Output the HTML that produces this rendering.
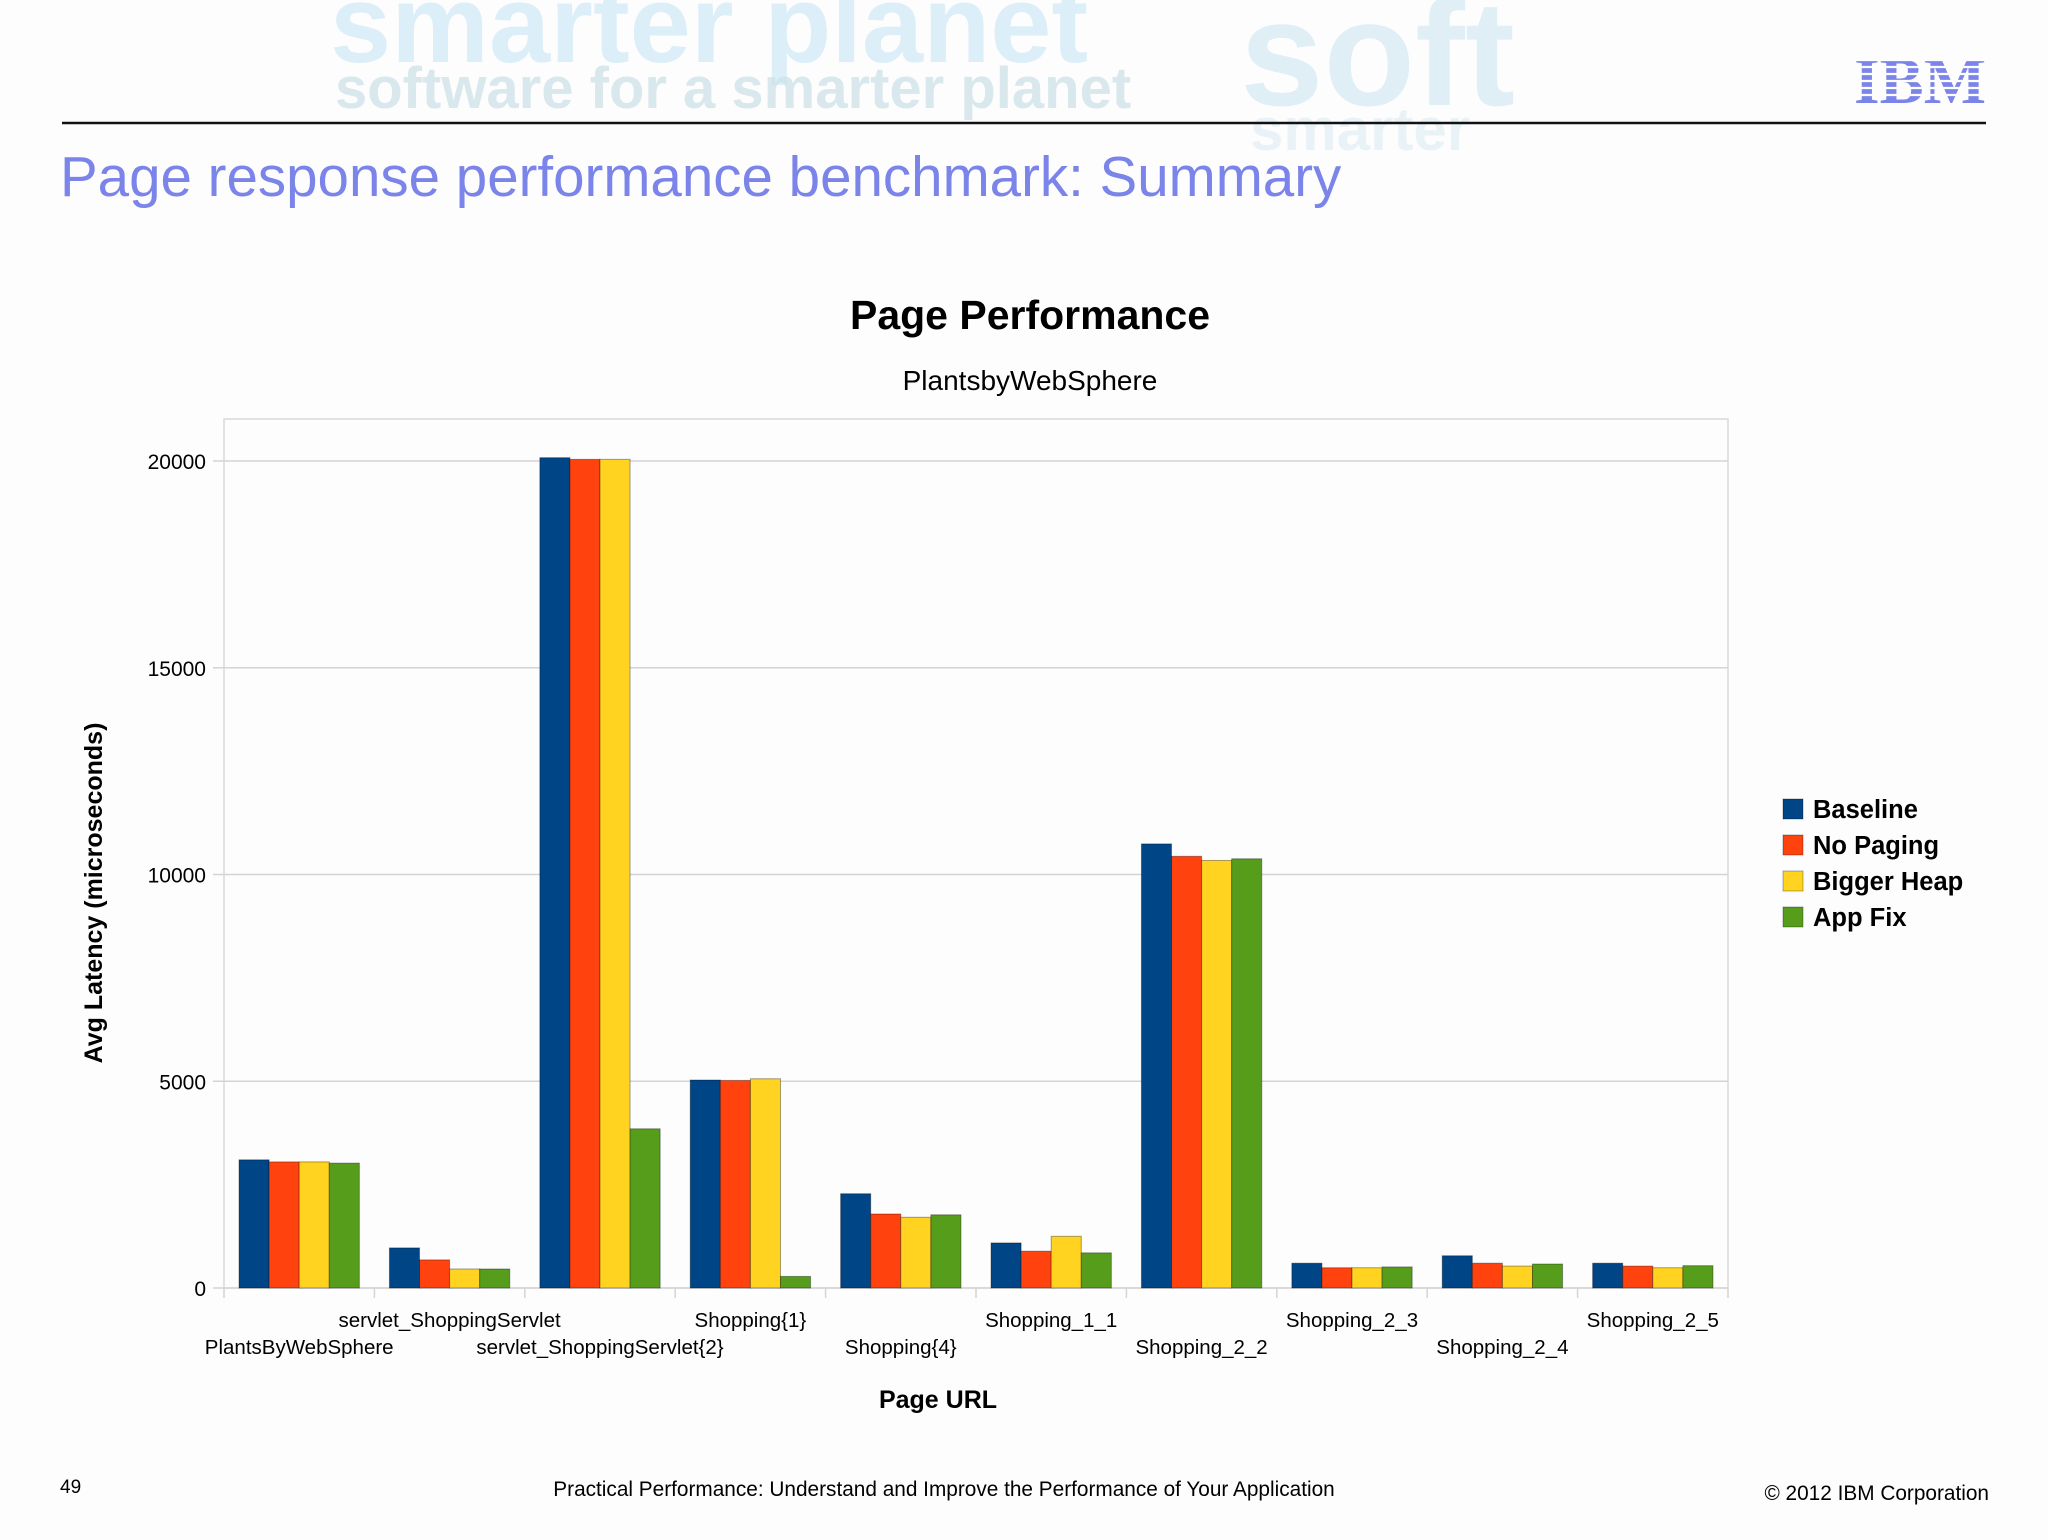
<!DOCTYPE html>
<html><head><meta charset="utf-8">
<style>
html,body{margin:0;padding:0;background:#fdfdfe;}
body{width:2048px;height:1535px;position:relative;overflow:hidden;font-family:"Liberation Sans",sans-serif;}
</style></head>
<body>
<svg width="2048" height="1535" viewBox="0 0 2048 1535" xmlns="http://www.w3.org/2000/svg">
<g font-family="Liberation Sans, sans-serif" font-weight="bold">
  <text x="330" y="62" font-size="110" fill="#cfe9f5" opacity="0.7">smarter planet</text>
  <text x="1240" y="105" font-size="150" fill="#d5eaf3" opacity="0.7">soft</text>
  <text x="335" y="108" font-size="58" fill="#cfe3ea" opacity="0.8">software for a smarter planet</text>
  <text x="1250" y="150" font-size="60" fill="#e3f0f6" opacity="0.8">smarter</text>
</g>
<line x1="62" y1="123" x2="1986" y2="123" stroke="#111" stroke-width="2.5"/>
<g fill="#7b84e8">
  <text x="1854" y="103" font-size="66" font-weight="bold" font-family="Liberation Serif, serif" textLength="132" lengthAdjust="spacingAndGlyphs">IBM</text>
</g>
<g stroke="#fdfdfe" stroke-width="2.2">
  <line x1="1850" y1="60" x2="1995" y2="60"/><line x1="1850" y1="67" x2="1995" y2="67"/><line x1="1850" y1="74" x2="1995" y2="74"/><line x1="1850" y1="81" x2="1995" y2="81"/><line x1="1850" y1="88" x2="1995" y2="88"/><line x1="1850" y1="95" x2="1995" y2="95"/>
</g>
<text x="60" y="196" font-size="56.5" fill="#7b84e8">Page response performance benchmark: Summary</text>
<text x="1030" y="329" font-size="41" font-weight="bold" text-anchor="middle" fill="#000">Page Performance</text>
<text x="1030" y="390" font-size="28" text-anchor="middle" fill="#000">PlantsbyWebSphere</text>
<g id="chart"></g>
<text transform="translate(102,893) rotate(-90)" font-size="25" font-weight="bold" text-anchor="middle">Avg Latency (microseconds)</text>
<text x="938" y="1408" font-size="25" font-weight="bold" text-anchor="middle">Page URL</text>
<text x="60" y="1493" font-size="19">49</text>
<text x="944" y="1496" font-size="20.8" text-anchor="middle">Practical Performance: Understand and Improve the Performance of Your Application</text>
<text x="1989" y="1500" font-size="20.8" text-anchor="end">© 2012 IBM Corporation</text>
</svg>
<script>
const categories = ["PlantsByWebSphere","servlet_ShoppingServlet","servlet_ShoppingServlet{2}","Shopping{1}","Shopping{4}","Shopping_1_1","Shopping_2_2","Shopping_2_3","Shopping_2_4","Shopping_2_5"];
const seriesNames = ["Baseline","No Paging","Bigger Heap","App Fix"];
const baseline = [3100, 970, 20080, 5030, 2280, 1090, 10740, 600, 780, 600];
const noPaging = [3050, 680, 20040, 5020, 1790, 890, 10440, 490, 600, 530];
const biggerHeap = [3050, 460, 20040, 5060, 1710, 1250, 10340, 490, 530, 490];
const appFix = [3020, 460, 3850, 280, 1770, 850, 10380, 510, 580, 540];
const yTicks = [0, 5000, 10000, 15000, 20000];

const series = [baseline, noPaging, biggerHeap, appFix];
const colors = ["#004586","#ff420e","#ffd320","#579d1c"];
const NS = "http://www.w3.org/2000/svg";
const g = document.getElementById("chart");
const L = 224, R = 1728, T = 419, B = 1288, Y0 = 1288, Y20 = 461;
const yScale = v => Y0 - (v / 20000) * (Y0 - Y20);
const gw = (R - L) / categories.length;
const xGroup = i => L + i * gw;
function mk(tag, attrs) { const e = document.createElementNS(NS, tag); for (const k in attrs) e.setAttribute(k, attrs[k]); g.appendChild(e); return e; }

let e = mk("rect", {x: L, y: T, width: R - L, height: B - T, fill: "#fdfdfe", stroke: "#d9d9dc", "stroke-width": 1.5});



yTicks.forEach(t => {
  const y = yScale(t);
  const ln = mk("line", {x1: L - 11, y1: y, x2: R, y2: y, stroke: "#d4d4d8", "stroke-width": 1.5});
  
  
  const tx = mk("text", {x: 206, y: y + 8, "font-size": 21, "text-anchor": "end", fill: "#000"});
  tx.textContent = String(t);
  
  
});

for (let i = 0; i <= categories.length; i++) {
  const x = xGroup(i);
  const tk = mk("line", {x1: x, y1: B, x2: x, y2: B + 10, stroke: "#d4d4d8", "stroke-width": 1.5});
  
  
}

const bw = gw * 0.2, off = gw * 0.1;
categories.forEach((c, i) => {
  series.forEach((s, j) => {
    const y = yScale(s[i]);
    const r = mk("rect", {x: xGroup(i) + off + j * bw, y: y, width: bw, height: Y0 - y, fill: colors[j], stroke: "rgba(0,0,0,0.35)", "stroke-width": 1});
    
    
  });
  const lbl = mk("text", {x: xGroup(i) + gw / 2, y: i % 2 === 0 ? 1354 : 1327, "font-size": 20.5, "text-anchor": "middle", fill: "#000"});
  lbl.textContent = c;
  
  
});

seriesNames.forEach((n, j) => {
  const y = 809 + j * 36;
  const sq = mk("rect", {x: 1783, y: y - 10, width: 20, height: 20, fill: colors[j], stroke: "rgba(0,0,0,0.3)", "stroke-width": 1});
  
  
  const t = mk("text", {x: 1813, y: y + 9, "font-size": 25.5, "font-weight": "bold", fill: "#000"});
  t.textContent = n;
  
  
});
</script>
</body></html>
